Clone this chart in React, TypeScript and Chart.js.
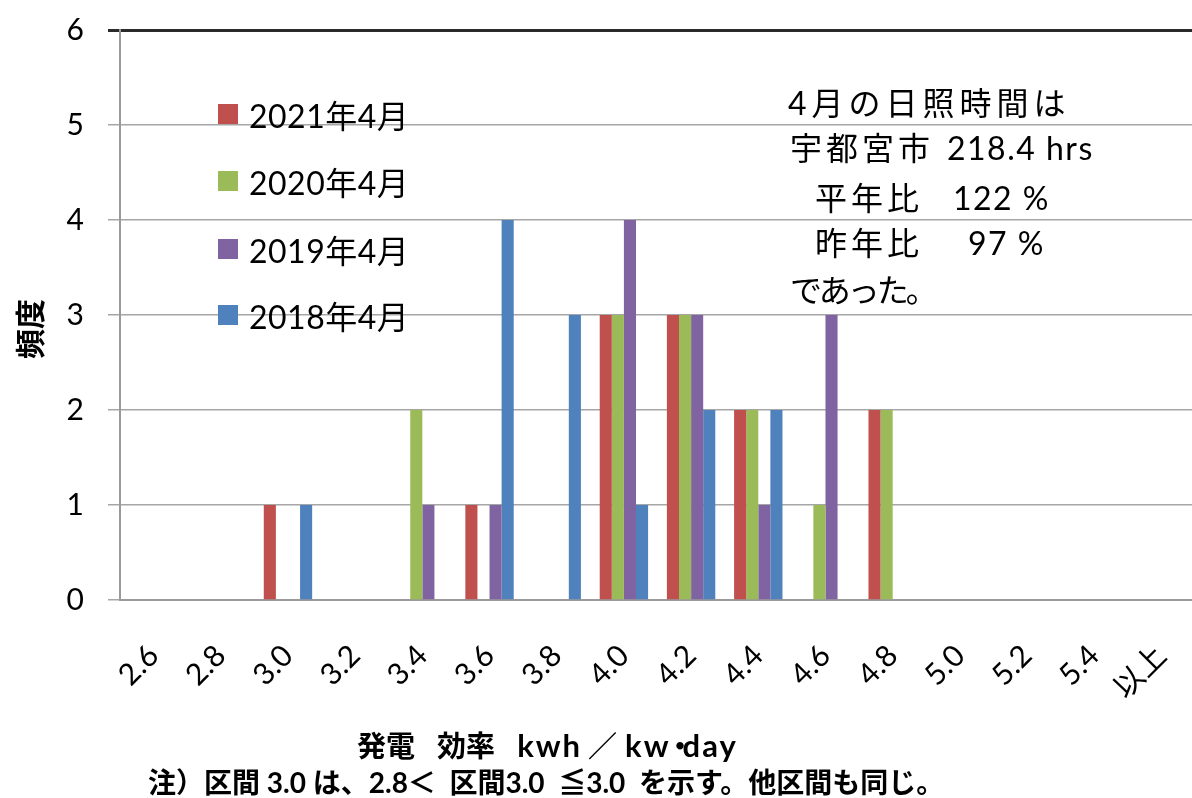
import React, { useEffect, useRef } from "react";
import { Chart, registerables } from "chart.js";

Chart.register(...registerables);

const categories = ["2.6", "2.8", "3.0", "3.2", "3.4", "3.6", "3.8", "4.0", "4.2", "4.4", "4.6", "4.8", "5.0", "5.2", "5.4", "以上"];
const series2021 = [0, 0, 1, 0, 0, 1, 0, 3, 3, 2, 0, 2, 0, 0, 0, 0];
const series2020 = [0, 0, 0, 0, 2, 0, 0, 3, 3, 2, 1, 2, 0, 0, 0, 0];
const series2019 = [0, 0, 0, 0, 1, 1, 0, 4, 3, 1, 3, 0, 0, 0, 0, 0];
const series2018 = [0, 0, 1, 0, 0, 4, 3, 1, 2, 2, 0, 0, 0, 0, 0, 0];
const seriesLabels = ["2021年4月", "2020年4月", "2019年4月", "2018年4月"];
const seriesColors = ["#C0504D", "#9BBB59", "#8064A2", "#4F81BD"];
const yTicks = [0, 1, 2, 3, 4, 5, 6];

const FONT = "Lato, 'Noto Sans CJK JP', sans-serif";

export default function App() {
  const ref = useRef<HTMLCanvasElement>(null);

  useEffect(() => {
    const values = [series2021, series2020, series2019, series2018];
    const chart = new Chart(ref.current as HTMLCanvasElement, {
      type: "bar",
      data: {
        labels: categories,
        datasets: values.map((v, i) => ({
          label: seriesLabels[i],
          data: v,
          backgroundColor: seriesColors[i],
          borderWidth: 0,
          categoryPercentage: 0.72,
          barPercentage: 1.0,
        })),
      },
      options: {
        responsive: false,
        animation: false,
        devicePixelRatio: 1,
        layout: { padding: { top: 30, left: 0, right: 5, bottom: 0 } },
        plugins: {
          legend: { display: false },
          tooltip: { enabled: false },
          title: { display: false },
        },
        scales: {
          x: {
            grid: { display: false, drawTicks: false },
            border: { display: true, color: "#9a9a9a", width: 2 },
            ticks: {
              color: "#000",
              font: { family: FONT, size: 30 },
              minRotation: 45,
              maxRotation: 45,
              autoSkip: false,
              padding: 38,
            },
            afterFit: (s: any) => {
              s.height = 198;
              s.paddingLeft = 0;
              s.paddingRight = 0;
            },
          },
          y: {
            min: yTicks[0],
            max: yTicks[yTicks.length - 1],
            afterBuildTicks: (s: any) => {
              s.ticks = yTicks.map((v) => ({ value: v }));
            },
            ticks: {
              stepSize: 1,
              color: "#000",
              font: { family: FONT, size: 30 },
              padding: 24,
            },
            grid: {
              color: (c: any) => (c.tick && c.tick.value === 6 ? "#2a2a2a" : "#a6a6a6"),
              lineWidth: (c: any) => (c.tick && c.tick.value === 6 ? 3 : 1.5),
              tickLength: 12,
              drawTicks: true,
            },
            border: { display: true, color: "#9a9a9a", width: 2 },
            afterFit: (s: any) => {
              s.width = 120;
              s.paddingTop = 0;
              s.paddingBottom = 0;
            },
          },
        },
      },
    });
    return () => chart.destroy();
  }, []);

  const legendCenters = [114, 181, 249, 315];
  const cjk = { letterSpacing: "4px" };
  const lat = { letterSpacing: "1.5px" };
  const lineStyle = (left: number, center: number): React.CSSProperties => ({
    position: "absolute",
    left,
    top: center - 20,
    height: 40,
    lineHeight: "40px",
    fontSize: 32,
    whiteSpace: "pre",
    color: "#000",
  });
  const latTitle: React.CSSProperties = { fontSize: 31, letterSpacing: "2px" };

  return (
    <div
      style={{
        position: "fixed",
        left: 0,
        top: 0,
        width: 1192,
        height: 798,
        overflow: "hidden",
        background: "#fff",
        fontFamily: FONT,
      }}
    >
      <canvas
        ref={ref}
        width={1200}
        height={798}
        style={{ position: "absolute", left: 0, top: 0, width: 1200, height: 798 }}
      />

      {/* legend */}
      {seriesLabels.map((lab, i) => (
        <div
          key={lab}
          style={{
            position: "absolute",
            left: 218,
            top: legendCenters[i] - 20,
            height: 40,
            display: "flex",
            alignItems: "center",
            fontSize: 32,
            color: "#000",
            whiteSpace: "nowrap",
          }}
        >
          <span style={{ display: "inline-block", width: 20, height: 20, background: seriesColors[i], marginRight: 11 }} />
          <span style={{ letterSpacing: "0.5px" }}>{lab}</span>
        </div>
      ))}

      {/* annotation */}
      <div style={lineStyle(788, 103)}>
        <span style={{ letterSpacing: "5px" }}>4月の日照時間は</span>
      </div>
      <div style={lineStyle(790, 148)}>
        <span style={{ ...cjk, display: "inline-block", width: 157 }}>宇都宮市 </span>
        <span style={lat}>218.4 hrs</span>
      </div>
      <div style={lineStyle(815, 198)}>
        <span style={{ ...cjk, display: "inline-block", width: 138 }}>平年比 </span>
        <span style={lat}>122 %</span>
      </div>
      <div style={lineStyle(815, 243)}>
        <span style={{ ...cjk, display: "inline-block", width: 153 }}>昨年比 </span>
        <span style={lat}>97 %</span>
      </div>
      <div style={lineStyle(790, 290)}>
        <span style={{ letterSpacing: "-3px" }}>であった。</span>
      </div>

      {/* y axis title */}
      <div
        style={{
          position: "absolute",
          left: 29,
          top: 329,
          transform: "translate(-50%, -50%) rotate(-90deg)",
          fontSize: 30,
          fontWeight: 700,
          color: "#000",
          whiteSpace: "nowrap",
          lineHeight: "34px",
        }}
      >
        頻度
      </div>

      {/* x axis title */}
      <div
        style={{
          position: "absolute",
          left: 357,
          top: 745 - 18,
          height: 36,
          lineHeight: "36px",
          fontSize: 29,
          fontWeight: 700,
          color: "#000",
          whiteSpace: "pre",
          wordSpacing: "15px",
        }}
      >
        <span>発電</span> <span>効率</span> <span style={latTitle}>kwh</span>
        <span style={{ margin: "0 8px 0 6px" }}>／</span>
        <span style={latTitle}>kw</span>
        <span style={{ display: "inline-block", letterSpacing: "-12px", marginLeft: -5 }}>・</span>
        <span style={latTitle}>day</span>
      </div>

      {/* note */}
      <div
        style={{
          position: "absolute",
          left: 148,
          top: 782 - 17,
          height: 34,
          lineHeight: "34px",
          fontSize: 28,
          fontWeight: 700,
          color: "#000",
          whiteSpace: "pre",
        }}
      >
        注）区間 3.0 は、2.8＜  区間3.0  ≦3.0  を示す。他区間も同じ。
      </div>
    </div>
  );
}
